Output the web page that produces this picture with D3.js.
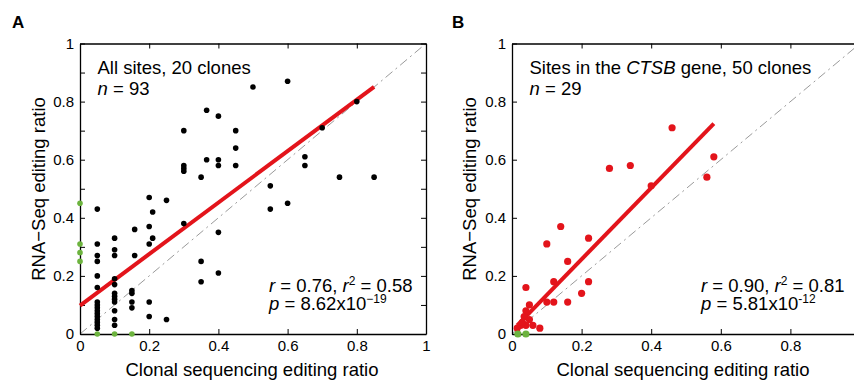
<!DOCTYPE html>
<html>
<head>
<meta charset="utf-8">
<script src="https://cdn.jsdelivr.net/npm/d3@7"></script>
<style>
  body { margin: 0; background: #fff; }
  svg text { font-family: "Liberation Sans", Arial, sans-serif; fill: #000; }
</style>
</head>
<body>
<svg id="chart" width="854" height="380"></svg>
<script>
// panel A: all sites, [clonal ratio, rna-seq ratio]
var allSites = [
  [0.05, 0.43], [0.05, 0.31], [0.05, 0.27], [0.05, 0.25], [0.05, 0.20], [0.05, 0.16],
  [0.05, 0.11], [0.05, 0.10], [0.05, 0.09], [0.05, 0.08], [0.05, 0.07], [0.05, 0.06],
  [0.05, 0.05], [0.05, 0.04], [0.05, 0.03], [0.05, 0.02],
  [0.1, 0.33], [0.1, 0.29], [0.1, 0.27], [0.1, 0.19], [0.1, 0.17], [0.1, 0.14],
  [0.1, 0.13], [0.1, 0.12], [0.1, 0.11], [0.1, 0.08], [0.1, 0.05], [0.1, 0.03],
  [0.15, 0.15], [0.15, 0.14], [0.15, 0.11], [0.15, 0.09],
  [0.158, 0.36], [0.158, 0.27],
  [0.2, 0.47], [0.2, 0.37], [0.2, 0.31], [0.2, 0.11], [0.2, 0.06],
  [0.21, 0.42], [0.21, 0.33],
  [0.25, 0.46], [0.25, 0.05],
  [0.3, 0.70], [0.3, 0.58], [0.3, 0.57], [0.3, 0.56], [0.3, 0.38],
  [0.35, 0.54], [0.35, 0.25], [0.35, 0.18],
  [0.366, 0.77], [0.366, 0.60],
  [0.4, 0.75], [0.4, 0.60], [0.4, 0.58], [0.4, 0.35], [0.4, 0.21],
  [0.45, 0.70], [0.45, 0.64], [0.45, 0.58],
  [0.5, 0.85], [0.55, 0.51], [0.55, 0.43], [0.6, 0.87], [0.6, 0.45],
  [0.65, 0.61], [0.65, 0.58], [0.7, 0.71], [0.75, 0.54], [0.8, 0.80], [0.85, 0.54]
];
// sites that are zero in one of the two measurements (green)
var allSitesZero = [
  [0, 0.45], [0, 0.31], [0, 0.28], [0, 0.25],
  [0.05, 0], [0.1, 0], [0.15, 0]
];
var fitAll = [[0, 0.098], [0.85, 0.851]];

// panel B: CTSB gene
var ctsbSites = [
  [0.46, 0.71], [0.28, 0.57], [0.34, 0.58], [0.58, 0.61], [0.56, 0.54], [0.40, 0.51],
  [0.14, 0.37], [0.10, 0.31], [0.22, 0.33], [0.16, 0.25], [0.12, 0.18], [0.22, 0.18],
  [0.20, 0.14], [0.16, 0.11], [0.12, 0.11], [0.10, 0.11], [0.04, 0.16], [0.05, 0.10],
  [0.04, 0.08], [0.08, 0.02], [0.06, 0.03], [0.05, 0.05], [0.04, 0.03], [0.025, 0.03],
  [0.015, 0.02], [0.035, 0.06], [0.03, 0.04]
];
var ctsbZero = [[0.017, 0], [0.04, 0]];
var fitCtsb = [[0.015, 0.03], [0.58, 0.724]];

var xTicksA = [0, 0.2, 0.4, 0.6, 0.8, 1];
var xTicksB = [0, 0.2, 0.4, 0.6, 0.8];
var yTicksA = [0, 0.1, 0.2, 0.3, 0.4, 0.5, 0.6, 0.7, 0.8, 0.9, 1];
var yTicksB = [0, 0.2, 0.4, 0.6, 0.8, 1];
var tickLabels = { 0: "0", 0.2: "0.2", 0.4: "0.4", 0.6: "0.6", 0.8: "0.8", 1: "1" };

var svg = d3.select("#chart");
var FONT = "Liberation Sans, Arial, sans-serif";
var RED = "#e3141b", GREEN = "#6cb33e";

function fmt(d) { return tickLabels[d] !== undefined ? tickLabels[d] : ""; }

function styleAxis(g) {
  g.attr("font-size", 15).attr("font-family", FONT);
  g.select(".domain").attr("stroke", "#000").attr("stroke-width", 1.3);
  g.selectAll(".tick line").attr("stroke", "#000").attr("stroke-width", 1);
  g.selectAll(".tick text").attr("fill", "#000");
}

function drawPanel(p) {
  var x = d3.scaleLinear().domain([0, 1]).range(p.xRange);
  var y = d3.scaleLinear().domain([0, 1]).range([334, 43.5]);
  var line = d3.line().x(function(d) { return x(d[0]); }).y(function(d) { return y(d[1]); });
  var g = svg.append("g");

  // y = x reference
  g.append("path").datum([[0, 0], [1, 1]])
    .attr("d", line).attr("fill", "none")
    .attr("stroke", "#9a9a9a").attr("stroke-width", 1)
    .attr("stroke-dasharray", "9,4,2,4");

  // axes, ticks pointing inward
  g.append("g").attr("transform", "translate(0,334)")
    .call(d3.axisBottom(x).tickValues(p.xTicks).tickFormat(fmt).tickSize(-5).tickSizeOuter(0).tickPadding(6))
    .call(styleAxis);
  g.append("g").attr("transform", "translate(0,43.5)")
    .call(d3.axisTop(x).tickValues(p.xTicks).tickFormat("").tickSize(-5).tickSizeOuter(0))
    .call(styleAxis);
  g.append("g").attr("transform", "translate(" + p.xRange[0] + ",0)")
    .call(d3.axisLeft(y).tickValues(p.yTicks).tickFormat(fmt).tickSize(-5).tickSizeOuter(0).tickPadding(6))
    .call(styleAxis);
  if (p.rightAxis) {
    g.append("g").attr("transform", "translate(" + p.xRange[1] + ",0)")
      .call(d3.axisRight(y).tickValues(p.yTicks).tickFormat("").tickSize(-5).tickSizeOuter(0))
      .call(styleAxis);
  }

  // regression fit
  g.append("path").datum(p.fit)
    .attr("d", line).attr("fill", "none")
    .attr("stroke", RED).attr("stroke-width", 4);

  g.selectAll("circle.pt").data(p.points).enter().append("circle")
    .attr("class", "pt")
    .attr("cx", function(d) { return x(d[0]); })
    .attr("cy", function(d) { return y(d[1]); })
    .attr("r", p.r).attr("fill", p.color);

  g.selectAll("circle.zero").data(p.zeros).enter().append("circle")
    .attr("class", "zero")
    .attr("cx", function(d) { return x(d[0]); })
    .attr("cy", function(d) { return y(d[1]); })
    .attr("r", p.r).attr("fill", GREEN);

  // panel letter
  svg.append("text").attr("x", p.letterX).attr("y", 28)
    .attr("font-size", 17).attr("font-weight", "bold").text(p.letter);

  // axis titles
  svg.append("text").attr("x", p.xLabelX).attr("y", 376)
    .attr("text-anchor", "middle").attr("font-size", 18.5)
    .text("Clonal sequencing editing ratio");
  svg.append("text")
    .attr("transform", "translate(" + p.yLabelX + ",189) rotate(-90)")
    .attr("text-anchor", "middle").attr("font-size", 18.5)
    .text("RNA\u2212Seq editing ratio");

  // annotation
  var t1 = svg.append("text").attr("x", p.noteX).attr("y", 74).attr("font-size", 18.5);
  p.title.forEach(function(s) {
    t1.append("tspan").attr("font-style", s[1] ? "italic" : null).text(s[0]);
  });
  var t2 = svg.append("text").attr("x", p.noteX).attr("y", 95).attr("font-size", 18.5);
  t2.append("tspan").attr("font-style", "italic").text("n");
  t2.append("tspan").text(" = " + p.n);

  // statistics
  var s1 = svg.append("text").attr("x", p.statX).attr("y", 292).attr("font-size", 18.5);
  s1.append("tspan").attr("font-style", "italic").text("r");
  s1.append("tspan").text(" = " + p.r1 + ", ");
  s1.append("tspan").attr("font-style", "italic").text("r");
  s1.append("tspan").attr("font-size", 12).attr("dy", -7).text("2");
  s1.append("tspan").attr("dy", 7).text(" = " + p.r2);
  var s2 = svg.append("text").attr("x", p.statX).attr("y", 310).attr("font-size", 18.5);
  s2.append("tspan").attr("font-style", "italic").text("p");
  s2.append("tspan").text(" = " + p.pval + "x10");
  s2.append("tspan").attr("font-size", 12).attr("dy", -7).text(p.pexp);
}

drawPanel({
  xRange: [80, 426], points: allSites, zeros: allSitesZero, fit: fitAll,
  color: "#000", r: 2.8,
  xTicks: xTicksA, yTicks: yTicksA, rightAxis: true,
  letter: "A", letterX: 12, xLabelX: 252, yLabelX: 45,
  title: [["All sites, 20 clones", false]], n: 93, noteX: 97.5,
  statX: 269, r1: "0.76", r2: "0.58", pval: "8.62", pexp: "\u221219"
});

drawPanel({
  xRange: [512, 860], points: ctsbSites, zeros: ctsbZero, fit: fitCtsb,
  color: RED, r: 3.6,
  xTicks: xTicksB, yTicks: yTicksB, rightAxis: false,
  letter: "B", letterX: 452, xLabelX: 683, yLabelX: 476,
  title: [["Sites in the ", false], ["CTSB", true], [" gene, 50 clones", false]], n: 29, noteX: 529.5,
  statX: 701, r1: "0.90", r2: "0.81", pval: "5.81", pexp: "-12"
});
</script>
</body>
</html>
